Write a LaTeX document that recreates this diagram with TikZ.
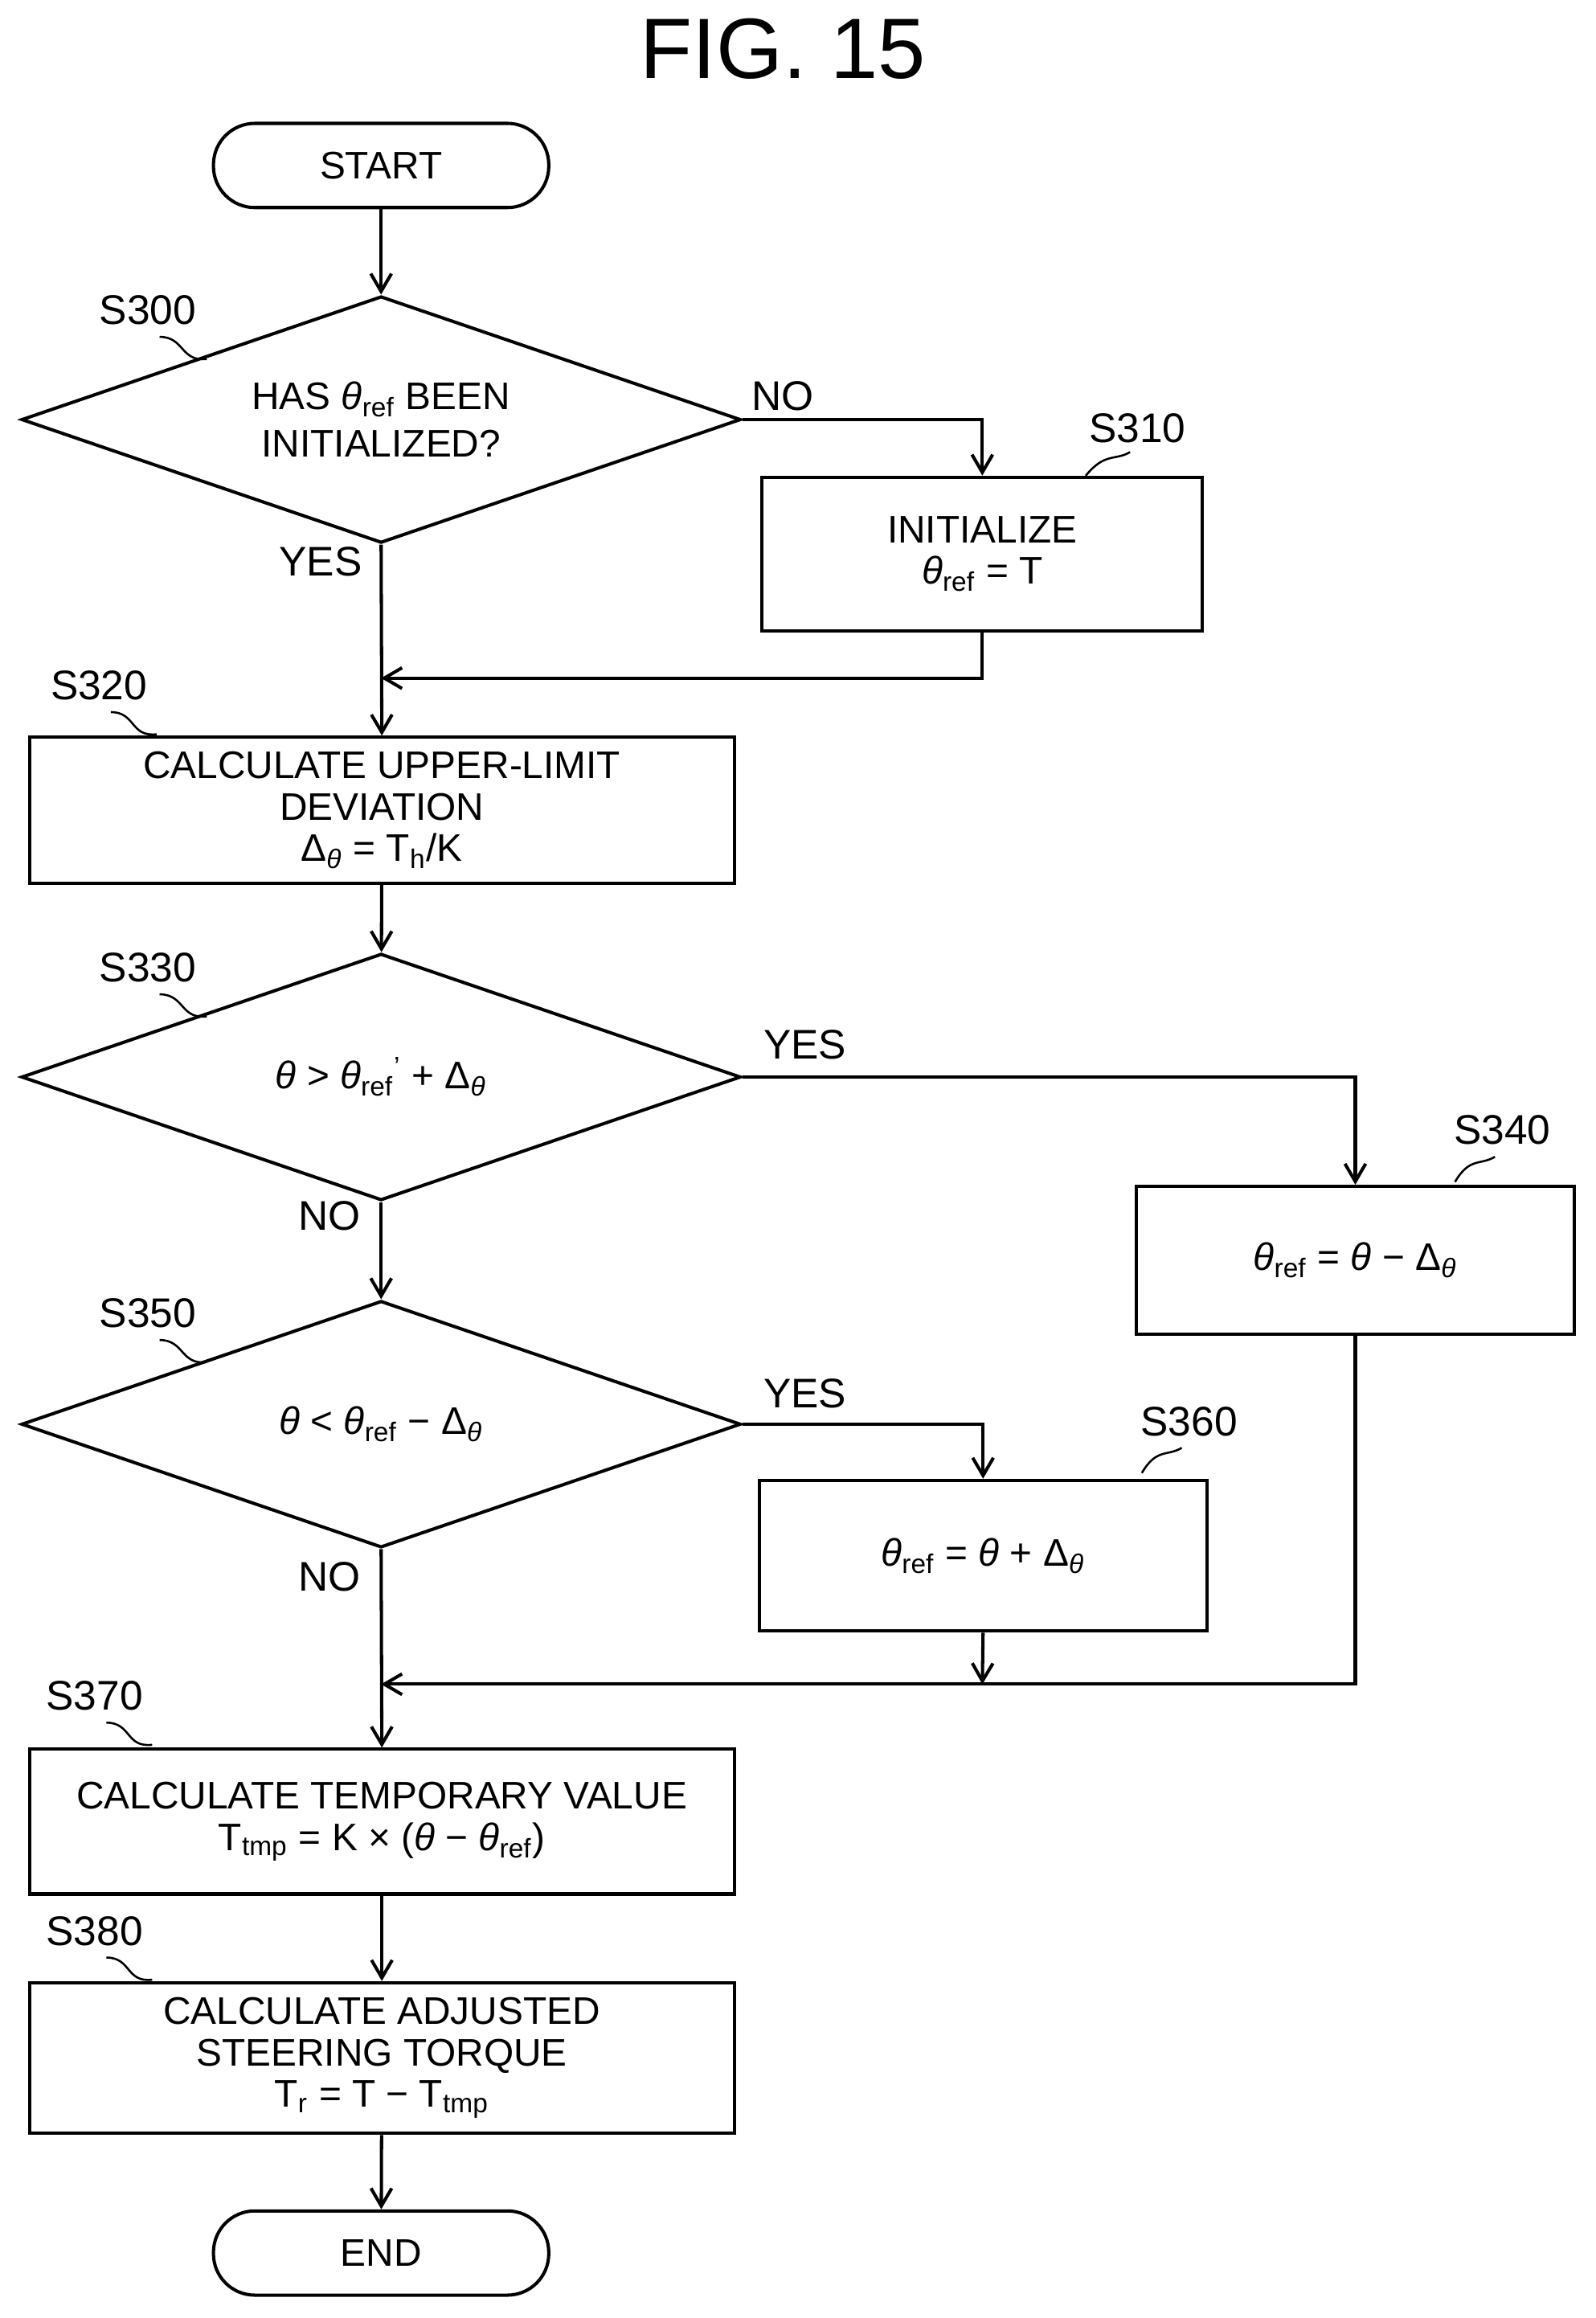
\documentclass[tikz,border=0pt]{standalone}
\usepackage{fontspec}
\setmainfont{Liberation Sans}
\usetikzlibrary{shapes.geometric,arrows.meta}
\newcommand{\tht}{\textit{θ}}
\begin{document}
\begin{tikzpicture}[x=0.5pt,y=-0.5pt,line width=1.1pt,
  box/.style={draw,rectangle,inner sep=0pt,align=center,font=\fontsize{13}{14}\selectfont},
  term/.style={draw,rounded corners=14pt,inner sep=0pt,minimum width=113.5pt,minimum height=28.5pt,font=\fontsize{13}{14}\selectfont},
  dia/.style={draw,diamond,aspect=2.9,inner sep=0pt,minimum width=243.5pt,minimum height=83.5pt,align=center,font=\fontsize{13}{16}\selectfont},
  lab/.style={font=\fontsize{14}{14}\selectfont},
  arr/.style={-{Straight Barb[length=6pt,width=7pt]}},
  sq/.style={line width=0.7pt}]
\useasboundingbox (0,0) rectangle (1080,1569);
\node[font=\fontsize{29}{29}\selectfont] (title) at (530,33) {FIG. 15};
\node[term] (start) at (258,112) {START};
\node[dia] (s300) at (258,284) {HAS \tht\textsubscript{ref} BEEN\\INITIALIZED?};
\node[box,minimum width=149pt,minimum height=52pt] (s310) at (665,375) {INITIALIZE\\\tht\textsubscript{ref} = T};
\node[box,minimum width=238.5pt,minimum height=49.5pt] (s320) at (258.5,548.5) {CALCULATE UPPER-LIMIT\\DEVIATION\\Δ\textsubscript{\tht} = T\textsubscript{h}/K};
\node[dia] (s330) at (258,729) {\tht{} > \tht\textsubscript{ref}\textsuperscript{'} + Δ\textsubscript{\tht}};
\node[box,minimum width=148.5pt,minimum height=50pt] (s340) at (917.5,853) {\tht\textsubscript{ref} = \tht{} − Δ\textsubscript{\tht}};
\node[dia] (s350) at (258,964) {\tht{} < \tht\textsubscript{ref} − Δ\textsubscript{\tht}};
\node[box,minimum width=151.5pt,minimum height=51pt] (s360) at (665.5,1053) {\tht\textsubscript{ref} = \tht{} + Δ\textsubscript{\tht}};
\node[box,minimum width=238.5pt,minimum height=49pt] (s370) at (258.5,1233) {CALCULATE TEMPORARY VALUE\\T\textsubscript{tmp} = K × (\tht{} − \tht\textsubscript{ref})};
\node[box,minimum width=238.5pt,minimum height=51pt] (s380) at (258.5,1393) {CALCULATE ADJUSTED\\STEERING TORQUE\\T\textsubscript{r} = T − T\textsubscript{tmp}};
\node[term] (end) at (258,1525) {END};
\node[lab] (l300) at (100,210) {S300};
\node[lab] (l310) at (770,290) {S310};
\node[lab] (l320) at (67,464) {S320};
\node[lab] (l330) at (100,655) {S330};
\node[lab] (l340) at (1017,765) {S340};
\node[lab] (l350) at (100,889) {S350};
\node[lab] (l360) at (805,962) {S360};
\node[lab] (l370) at (64,1148) {S370};
\node[lab] (l380) at (64,1307) {S380};
\draw[sq] (108,228) .. controls (125,228) and (122,245) .. (140,243);
\draw[sq] (765,306) .. controls (755,312) and (748,306) .. (735,322);
\draw[sq] (75,482) .. controls (92,482) and (88,499) .. (106,497);
\draw[sq] (108,673) .. controls (125,673) and (122,690) .. (140,688);
\draw[sq] (1012,783) .. controls (1002,789) and (995,783) .. (985,800);
\draw[sq] (108,907) .. controls (125,907) and (122,924) .. (140,922);
\draw[sq] (800,980) .. controls (790,986) and (783,980) .. (773,997);
\draw[sq] (72,1166) .. controls (89,1166) and (85,1183) .. (103,1181);
\draw[sq] (72,1325) .. controls (89,1325) and (85,1342) .. (103,1340);
\node[lab] (no1) at (530,268) {NO};
\node[lab] (yes1) at (217,380) {YES};
\node[lab] (yes2) at (545,707) {YES};
\node[lab] (no2) at (223,823) {NO};
\node[lab] (yes3) at (545,943) {YES};
\node[lab] (no3) at (223,1067) {NO};
\coordinate (j1) at (258,459);
\coordinate (j2) at (258,1140);
\draw[arr] (start) -- (s300);
\draw[arr] (s300.east) -| (s310.north);
\draw[arr] (s310.south) |- (j1);
\draw[arr] (s300.south) -- (s320.north);
\draw[arr] (s320) -- (s330);
\draw[arr] (s330.east) -| (s340.north);
\draw[arr] (s330.south) -- (s350.north);
\draw[arr] (s350.east) -| (s360.north);
\draw[arr] (s360.south) -- (665,1140);
\draw[arr] (s340.south) |- (j2);
\draw[arr] (s350.south) -- (s370.north);
\draw[arr] (s370) -- (s380);
\draw[arr] (s380) -- (end);
\end{tikzpicture}
\end{document}
